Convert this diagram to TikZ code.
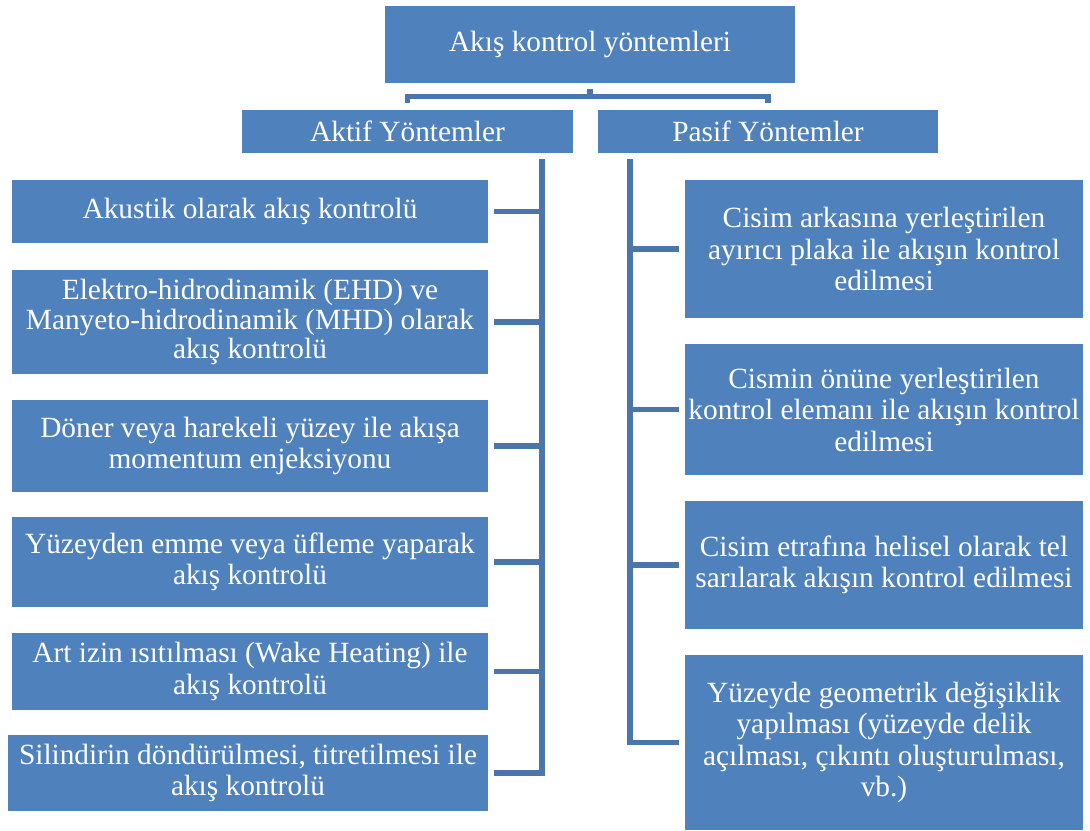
\documentclass[tikz,border=0pt]{standalone}
\usepackage{fontspec}
\setmainfont{Liberation Serif}
\definecolor{boxblue}{HTML}{4F81BD}
\definecolor{lineblue}{HTML}{4A76AC}
\begin{document}
\begin{tikzpicture}[x=0.75pt,y=-0.75pt,
  box/.style={fill=boxblue, text=white, align=center, inner sep=0pt,
    font=\fontsize{22}{23.6}\selectfont},
  tight/.style={font=\fontsize{22}{22.2}\selectfont},
  conn/.style={draw=lineblue, line width=4.1pt}]
\useasboundingbox (0,0) rectangle (1090,831);
% top
\node[box, minimum width=307.5pt, minimum height=57.75pt] (top) at (590,44.5) {Akış kontrol yöntemleri};
\node[box, minimum width=248.25pt, minimum height=32.25pt] (aktif) at (407.5,131.5) {Aktif Yöntemler};
\node[box, minimum width=255pt, minimum height=32.25pt] (pasif) at (768,131.5) {Pasif Yöntemler};
% left
\node[box, minimum width=357pt, minimum height=47.25pt] (l1) at (250,211.5) {Akustik olarak akış kontrolü};
\node[box, tight, minimum width=357pt, minimum height=78pt] (l2) at (250,322) {Elektro-hidrodinamik (EHD) ve\\Manyeto-hidrodinamik (MHD) olarak\\akış kontrolü};
\node[box, minimum width=357pt, minimum height=69pt] (l3) at (250,446) {Döner veya harekeli yüzey ile akışa\\momentum enjeksiyonu};
\node[box, minimum width=357pt, minimum height=67.5pt] (l4) at (250,562) {Yüzeyden emme veya üfleme yaparak\\akış kontrolü};
\node[box, minimum width=357pt, minimum height=57.75pt] (l5) at (250,671.5) {Art izin ısıtılması (Wake Heating) ile\\akış kontrolü};
\node[box, minimum width=360pt, minimum height=57pt] (l6) at (248,773) {Silindirin döndürülmesi, titretilmesi ile\\akış kontrolü};
% right
\node[box, minimum width=298.5pt, minimum height=103.5pt] (r1) at (884,249) {Cisim arkasına yerleştirilen\\ayırıcı plaka ile akışın kontrol\\edilmesi};
\node[box, minimum width=298.5pt, minimum height=98.25pt] (r2) at (884,409.5) {Cismin önüne yerleştirilen\\kontrol elemanı ile akışın kontrol\\edilmesi};
\node[box, minimum width=298.5pt, minimum height=96pt] (r3) at (884,565) {Cisim etrafına helisel olarak tel\\sarılarak akışın kontrol edilmesi};
\node[box, minimum width=298.5pt, minimum height=131.25pt] (r4) at (884,742.5) {Yüzeyde geometrik değişiklik\\yapılması (yüzeyde delik\\açılması, çıkıntı oluşturulması,\\vb.)};
% connectors
\coordinate (lt) at (542,159);
\coordinate (rt) at (630,159);
\draw[conn] ([yshift=-4.5pt]top.south) -- ++(0,8);
\draw[conn] ([yshift=5.25pt]aktif.north) -- ++(0,-6) -| ([yshift=5.25pt]pasif.north);
\draw[conn] (lt) |- ([xshift=4.5pt]l6.east);
\foreach \n in {l1,l2,l3,l4,l5}
  \draw[conn] ([xshift=4.5pt]\n.east) -- (\n.east -| lt);
\draw[conn] (rt) |- ([xshift=-4.5pt]r4.west);
\foreach \n in {r1,r2,r3}
  \draw[conn] ([xshift=-4.5pt]\n.west) -- (\n.west -| rt);
\end{tikzpicture}
\end{document}
